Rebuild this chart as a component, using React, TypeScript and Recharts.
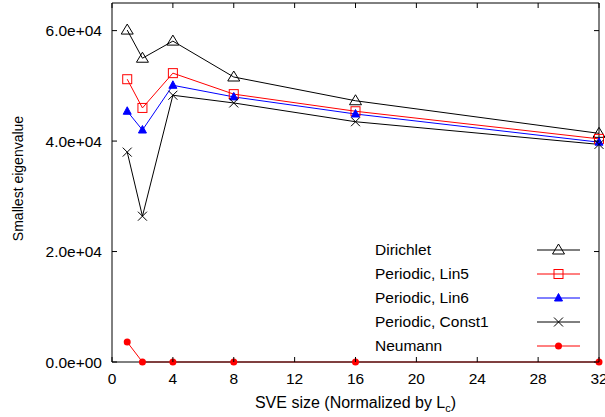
import React from 'react';
import { LineChart, Line, XAxis, YAxis, ReferenceLine, Legend } from 'recharts';

// SVE sizes and smallest eigenvalues
const SIZES = [1, 2, 4, 8, 16, 32];
const DIRICHLET = [60100, 55000, 58100, 51600, 47300, 41400];
const LIN5 = [51200, 46000, 52300, 48500, 45400, 40400];
const LIN6 = [45400, 42000, 50100, 48000, 44900, 39800];
const CONST1 = [38000, 26400, 48300, 46900, 43500, 39400];
const NEUMANN = [3600, 0, 0, 0, 0, 0];

const X_TICKS = [0, 4, 8, 12, 16, 20, 24, 28, 32];
const Y_TICKS = [0, 20000, 40000, 60000];

const W = 605;
const H = 417;
const MARGIN = { top: 3, right: 6, left: 0, bottom: 0 };
const Y_AXIS_W = 112;
const X_AXIS_H = 55;
const PLOT_LEFT = Y_AXIS_W;
const PLOT_RIGHT = W - MARGIN.right;
const PLOT_TOP = MARGIN.top;
const PLOT_BOTTOM = H - X_AXIS_H;
const TICK = 5;
const FONT = '"Liberation Sans", Arial, Helvetica, sans-serif';

type Marker = 'tri' | 'square' | 'triFill' | 'cross' | 'circle';

const SERIES: { key: string; name: string; color: string; marker: Marker; values: number[] }[] = [
    { key: 'dirichlet', name: 'Dirichlet', color: '#000000', marker: 'tri', values: DIRICHLET },
    { key: 'lin5', name: 'Periodic, Lin5', color: '#ff0000', marker: 'square', values: LIN5 },
    { key: 'lin6', name: 'Periodic, Lin6', color: '#0000ff', marker: 'triFill', values: LIN6 },
    { key: 'const1', name: 'Periodic, Const1', color: '#000000', marker: 'cross', values: CONST1 },
    { key: 'neumann', name: 'Neumann', color: '#ff0000', marker: 'circle', values: NEUMANN },
];

const data = SIZES.map((s, i) => {
    const row: Record<string, number> = { size: s };
    SERIES.forEach((ser) => {
        row[ser.key] = ser.values[i];
    });
    return row;
});

function markerShape(m: Marker, cx: number, cy: number, color: string, key?: React.Key) {
    switch (m) {
        case 'tri':
            return (
                <polygon key={key} points={`${cx},${cy - 6} ${cx - 6},${cy + 4} ${cx + 6},${cy + 4}`}
                    fill="none" stroke={color} strokeWidth={1} />
            );
        case 'square':
            return <rect key={key} x={cx - 4.5} y={cy - 4.5} width={9} height={9} fill="none" stroke={color} strokeWidth={1} />;
        case 'triFill':
            return (
                <polygon key={key} points={`${cx},${cy - 4.5} ${cx - 4},${cy + 3} ${cx + 4},${cy + 3}`}
                    fill={color} stroke={color} strokeWidth={1} />
            );
        case 'cross':
            return (
                <path key={key} d={`M${cx - 4.5},${cy - 4.5}L${cx + 4.5},${cy + 4.5}M${cx - 4.5},${cy + 4.5}L${cx + 4.5},${cy - 4.5}`}
                    stroke={color} strokeWidth={1} />
            );
        default:
            return <circle key={key} cx={cx} cy={cy} r={3.5} fill={color} stroke="none" />;
    }
}

const XTick = (props: any) => {
    const { x, payload } = props;
    return (
        <g>
            <line x1={x} x2={x} y1={PLOT_BOTTOM} y2={PLOT_BOTTOM - TICK} stroke="#000" />
            <line x1={x} x2={x} y1={PLOT_TOP} y2={PLOT_TOP + TICK} stroke="#000" />
            <text x={x} y={PLOT_BOTTOM + 22} textAnchor="middle" fontSize={15.5} fontFamily={FONT} fill="#000">
                {payload.value}
            </text>
        </g>
    );
};

const YTick = (props: any) => {
    const { y, payload } = props;
    const label = Number(payload.value).toExponential(1).replace(/e([+-])(\d)$/, 'e$10$2');
    return (
        <g>
            <line x1={PLOT_LEFT} x2={PLOT_LEFT + TICK} y1={y} y2={y} stroke="#000" />
            <line x1={PLOT_RIGHT - TICK} x2={PLOT_RIGHT} y1={y} y2={y} stroke="#000" />
            <text x={PLOT_LEFT - 10} y={y + 5.5} textAnchor="end" fontSize={15.5} fontFamily={FONT} fill="#000">
                {label}
            </text>
        </g>
    );
};

const LegendBox = () => (
    <div style={{ fontFamily: FONT, fontSize: 15.5, color: '#000' }}>
        {SERIES.map((s) => (
            <div key={s.key} style={{ display: 'flex', alignItems: 'center', height: 24 }}>
                <span style={{ width: 162 }}>{s.name}</span>
                <svg width={44} height={24}>
                    <line x1={0} x2={43} y1={12} y2={12} stroke={s.color} strokeWidth={1} />
                    {markerShape(s.marker, 21.5, 12, s.color)}
                </svg>
            </div>
        ))}
    </div>
);

export default function App() {
    return (
        <div style={{ position: 'absolute', left: 0, top: 0, background: '#fff' }}>
            <LineChart width={W} height={H} data={data} margin={MARGIN}>
                <XAxis
                    dataKey="size"
                    type="number"
                    domain={[0, 32]}
                    ticks={X_TICKS}
                    tickLine={false}
                    axisLine={{ stroke: '#000' }}
                    tick={<XTick />}
                    height={X_AXIS_H}
                    interval={0}
                    label={({ viewBox }: any) => (
                        <text x={viewBox.x + viewBox.width / 2} y={PLOT_BOTTOM + 46} textAnchor="middle"
                            fontSize={16} fontFamily={FONT} fill="#000">
                            SVE size (Normalized by L<tspan fontSize={11} dy={4}>c</tspan><tspan dy={-4}>)</tspan>
                        </text>
                    )}
                />
                <YAxis
                    type="number"
                    domain={[0, 65000]}
                    ticks={Y_TICKS}
                    tickLine={false}
                    axisLine={{ stroke: '#000' }}
                    tick={<YTick />}
                    width={Y_AXIS_W}
                    interval={0}
                    label={({ viewBox }: any) => (
                        <text x={0} y={0} transform={`translate(23, ${viewBox.y + viewBox.height / 2 - 4}) rotate(-90)`}
                            textAnchor="middle" fontSize={14} fontFamily={FONT} fill="#000">
                            Smallest eigenvalue
                        </text>
                    )}
                />
                <ReferenceLine y={65000} stroke="#000" />
                <ReferenceLine x={32} stroke="#000" />
                <Legend
                    layout="vertical"
                    align="center"
                    verticalAlign="middle"
                    content={<LegendBox />}
                    wrapperStyle={{ position: 'absolute', left: 375, top: 238, width: 215 }}
                />
                {SERIES.map((s) => (
                    <Line
                        key={s.key}
                        dataKey={s.key}
                        name={s.name}
                        stroke={s.color}
                        strokeWidth={1}
                        type="linear"
                        isAnimationActive={false}
                        dot={(p: any) => markerShape(s.marker, p.cx, p.cy, s.color, p.index)}
                        activeDot={false}
                    />
                ))}
            </LineChart>
        </div>
    );
}
